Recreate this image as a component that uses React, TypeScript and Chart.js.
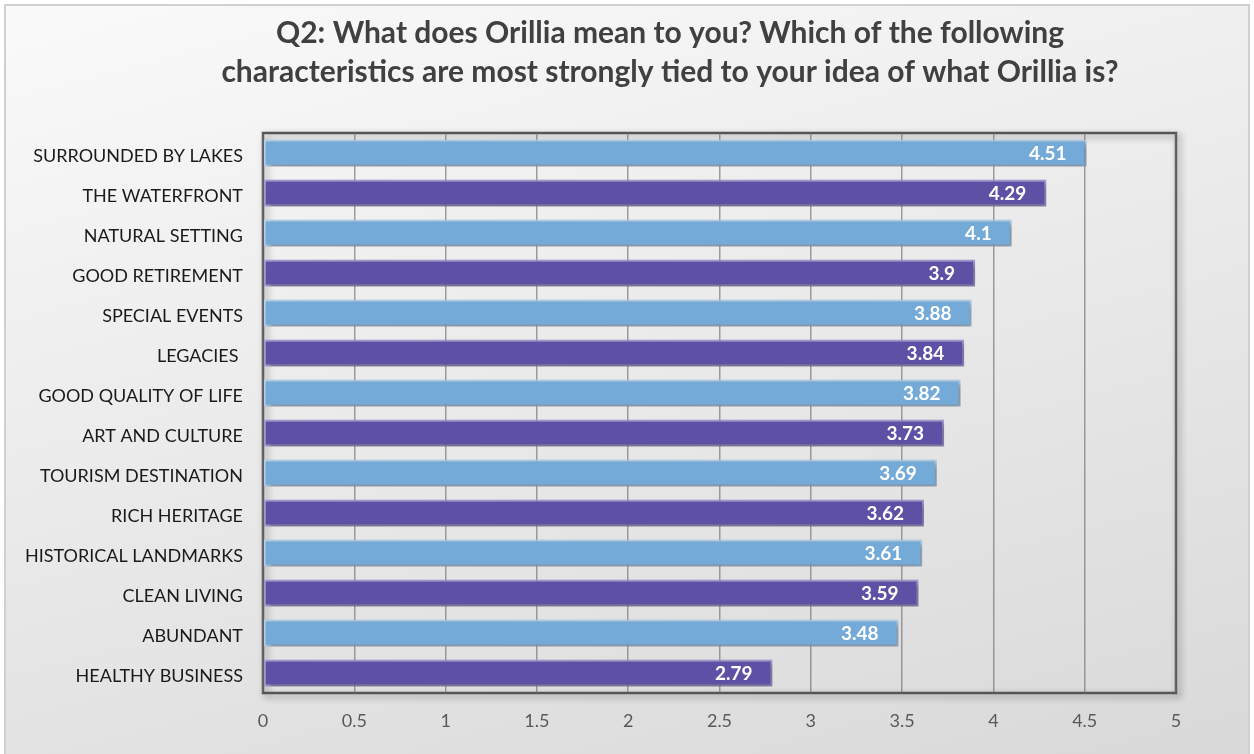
import React, { useEffect, useRef } from "react";
import { Chart, registerables } from "chart.js";

Chart.register(...registerables);

const categories: string[] = [
  "SURROUNDED BY LAKES",
  "THE WATERFRONT",
  "NATURAL SETTING",
  "GOOD RETIREMENT",
  "SPECIAL EVENTS",
  "LEGACIES ",
  "GOOD QUALITY OF LIFE",
  "ART AND CULTURE",
  "TOURISM DESTINATION",
  "RICH HERITAGE",
  "HISTORICAL LANDMARKS",
  "CLEAN LIVING",
  "ABUNDANT",
  "HEALTHY BUSINESS",
];

const scores: number[] = [4.51, 4.29, 4.1, 3.9, 3.88, 3.84, 3.82, 3.73, 3.69, 3.62, 3.61, 3.59, 3.48, 2.79];

const titleLines: string[] = [
  "Q2: What does Orillia mean to you? Which of the following",
  "characteristics are most strongly tied to your idea of what Orillia is?",
];

const BLUE = "#74AAD8";
const BLUE_EDGE = "#B4D2EE";
const PURPLE = "#5D50A5";
const PURPLE_EDGE = "#A79DD6";

const FONT = "Lato, 'Open Sans', sans-serif";

const backgroundPlugin = {
  id: "bgFrame",
  beforeDraw(chart: any) {
    const { ctx, width, height } = chart;
    ctx.save();
    ctx.fillStyle = "#ffffff";
    ctx.fillRect(0, 0, width, height);
    const g = ctx.createLinearGradient(0, 5, 300, height + 400);
    g.addColorStop(0, "#fafafa");
    g.addColorStop(1, "#d4d4d4");
    ctx.fillStyle = g;
    ctx.fillRect(5, 5, width - 10, height - 5);
    ctx.strokeStyle = "#d0d0d0";
    ctx.lineWidth = 2;
    ctx.strokeRect(5, 5, width - 10, height - 3);
    ctx.restore();
  },
};

const titlePlugin = {
  id: "customTitle",
  afterDraw(chart: any) {
    const { ctx } = chart;
    ctx.save();
    ctx.fillStyle = "#404040";
    ctx.font = `bold 30px ${FONT}`;
    ctx.textAlign = "center";
    ctx.textBaseline = "alphabetic";
    ctx.fillText(titleLines[0], 670, 43);
    ctx.fillText(titleLines[1], 670, 82);
    ctx.restore();
  },
};

const shadowPlugin = {
  id: "barShadow",
  beforeDatasetsDraw(chart: any) {
    const { ctx } = chart;
    ctx.save();
    ctx.shadowColor = "rgba(0,0,0,0.35)";
    ctx.shadowBlur = 6;
    ctx.shadowOffsetX = 3;
    ctx.shadowOffsetY = 3;
  },
  afterDatasetsDraw(chart: any) {
    chart.ctx.restore();
  },
};

const borderPlugin = {
  id: "plotBorder",
  beforeDraw(chart: any) {
    const { ctx, chartArea } = chart;
    const { left, top, right, bottom } = chartArea;
    ctx.save();
    ctx.shadowColor = "rgba(0,0,0,0.4)";
    ctx.shadowBlur = 7;
    ctx.shadowOffsetX = 3;
    ctx.shadowOffsetY = 3;
    ctx.strokeStyle = "#555555";
    ctx.lineWidth = 2.5;
    ctx.strokeRect(left, top, right - left, bottom - top);
    ctx.restore();
  },
};

const labelPlugin = {
  id: "valueLabels",
  afterDatasetsDraw(chart: any) {
    const { ctx } = chart;
    const meta = chart.getDatasetMeta(0);
    ctx.save();
    ctx.fillStyle = "#ffffff";
    ctx.font = `bold 19px ${FONT}`;
    ctx.textAlign = "right";
    ctx.textBaseline = "middle";
    meta.data.forEach((bar: any, i: number) => {
      ctx.fillText(String(scores[i]), bar.x - 20, bar.y + 1);
    });
    ctx.restore();
  },
};

export default function App() {
  const ref = useRef<HTMLCanvasElement>(null);

  useEffect(() => {
    if (!ref.current) return;
    const chart = new Chart(ref.current, {
      type: "bar",
      data: {
        labels: categories,
        datasets: [
          {
            data: scores,
            backgroundColor: scores.map((_, i) => (i % 2 === 0 ? BLUE : PURPLE)),
            borderColor: scores.map((_, i) => (i % 2 === 0 ? BLUE_EDGE : PURPLE_EDGE)),
            borderWidth: 2,
            borderSkipped: false,
            categoryPercentage: 1,
            barPercentage: 0.68,
          },
        ],
      },
      options: {
        indexAxis: "y",
        animation: false,
        responsive: false,
        devicePixelRatio: 1,
        layout: { padding: { left: 0, right: 78, top: 133, bottom: 0 } },
        plugins: {
          legend: { display: false },
          title: { display: false },
          tooltip: { enabled: false },
        },
        scales: {
          x: {
            min: 0,
            max: 5,
            ticks: {
              stepSize: 0.5,
              color: "#595959",
              font: { family: FONT, size: 18 },
              padding: 17,
              callback: (v: any) => String(Number(v)),
            },
            grid: {
              color: "rgba(110,110,110,0.65)",
              lineWidth: 1.5,
              drawTicks: false,
            },
            border: { display: false },
            afterFit(scale: any) {
              scale.height = 61;
            },
          },
          y: {
            ticks: {
              color: "#1a1a1a",
              font: { family: FONT, size: 18 },
              padding: 20,
              autoSkip: false,
              labelOffset: 3,
            },
            grid: { display: false, drawTicks: false },
            border: { display: false },
            afterFit(scale: any) {
              scale.width = 263;
            },
          },
        },
      },
      plugins: [backgroundPlugin, borderPlugin, shadowPlugin, labelPlugin, titlePlugin],
    });
    return () => chart.destroy();
  }, []);

  return (
    <div style={{ position: "fixed", left: 0, top: 0, width: 1254, height: 754 }}>
      <canvas ref={ref} width={1254} height={754} style={{ display: "block", width: 1254, height: 754 }} />
    </div>
  );
}
